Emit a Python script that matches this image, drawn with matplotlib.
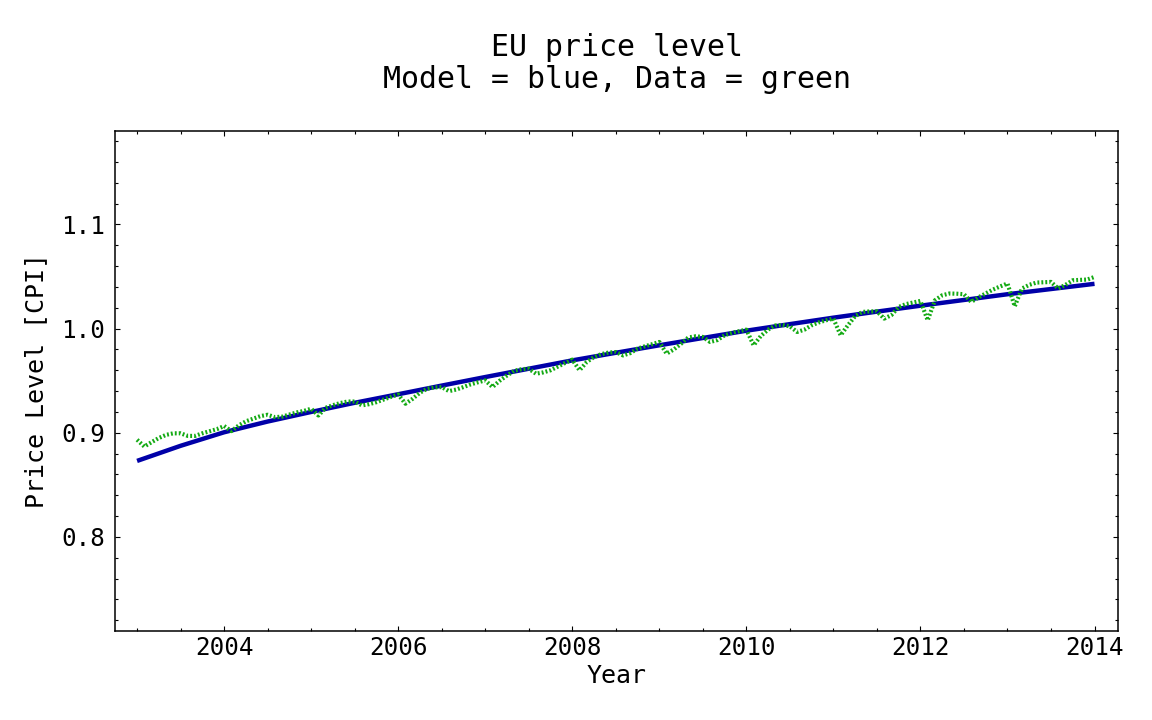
import matplotlib
matplotlib.use("Agg")
import matplotlib.pyplot as plt
import numpy as np
from matplotlib.ticker import MultipleLocator

# ---- data ----
model_years = [2003.0, 2003.5, 2004.0, 2004.5, 2005.0, 2005.5, 2006.0, 2006.5,
               2007.0, 2007.5, 2008.0, 2008.5, 2009.0, 2009.5, 2010.0, 2010.5,
               2011.0, 2011.5, 2012.0, 2012.5, 2013.0, 2013.5, 2014.0]
model_values = [0.8730, 0.8875, 0.9005, 0.9108, 0.9200, 0.9288, 0.9370, 0.9453,
                0.9535, 0.9615, 0.9695, 0.9768, 0.9840, 0.9910, 0.9980, 1.0043,
                1.0105, 1.0163, 1.0220, 1.0275, 1.0330, 1.0380, 1.0430]

# monthly CPI data, one row per year (Jan..Dec), plus final point
data_2003 = [0.8933, 0.8868, 0.8910, 0.8950, 0.8980, 0.8995, 0.8995, 0.8970, 0.8970, 0.8995, 0.9015, 0.9035]
data_2004 = [0.9065, 0.9016, 0.9070, 0.9110, 0.9135, 0.9160, 0.9173, 0.9150, 0.9155, 0.9175, 0.9195, 0.9210]
data_2005 = [0.9231, 0.9166, 0.9240, 0.9265, 0.9285, 0.9300, 0.9300, 0.9263, 0.9275, 0.9294, 0.9320, 0.9345]
data_2006 = [0.9368, 0.9279, 0.9327, 0.9385, 0.9423, 0.9435, 0.9439, 0.9400, 0.9415, 0.9439, 0.9465, 0.9485]
data_2007 = [0.9503, 0.9439, 0.9500, 0.9550, 0.9595, 0.9610, 0.9615, 0.9567, 0.9580, 0.9600, 0.9635, 0.9670]
data_2008 = [0.9702, 0.9600, 0.9680, 0.9727, 0.9755, 0.9770, 0.9775, 0.9743, 0.9765, 0.9808, 0.9830, 0.9850]
data_2009 = [0.9872, 0.9760, 0.9800, 0.9855, 0.9915, 0.9926, 0.9920, 0.9872, 0.9890, 0.9936, 0.9960, 0.9975]
data_2010 = [0.9990, 0.9840, 0.9930, 0.9990, 1.0030, 1.0035, 1.0022, 0.9968, 0.9990, 1.0032, 1.0060, 1.0080]
data_2011 = [1.0096, 0.9936, 1.0032, 1.0120, 1.0160, 1.0165, 1.0166, 1.0096, 1.0130, 1.0208, 1.0235, 1.0250]
data_2012 = [1.0266, 1.0080, 1.0272, 1.0320, 1.0337, 1.0335, 1.0330, 1.0256, 1.0300, 1.0337, 1.0375, 1.0405]
data_2013 = [1.0433, 1.0214, 1.0385, 1.0420, 1.0442, 1.0445, 1.0448, 1.0385, 1.0420, 1.0464, 1.0468, 1.0471]
data_2014 = [1.0496]

data_values = (data_2003 + data_2004 + data_2005 + data_2006 + data_2007 + data_2008 +
               data_2009 + data_2010 + data_2011 + data_2012 + data_2013 + data_2014)
data_years = [2003 + i / 12 for i in range(len(data_values))]

title_lines = ["EU price level", "Model = blue, Data = green"]
xlabel = "Year"
ylabel = "Price Level [CPI]"
xticks = [2004, 2006, 2008, 2010, 2012, 2014]
yticks = [0.8, 0.9, 1.0, 1.1]

# ---- figure ----
mono = "DejaVu Sans Mono"
fig = plt.figure(figsize=(11.52, 7.2), dpi=100)
ax = fig.add_axes([0.1001, 0.124, 0.8704, 0.6945])

ax.plot(model_years, model_values, color="#0000a8", lw=3.2, solid_capstyle="butt", zorder=2)
ln, = ax.plot(data_years, data_values, color="#14aa14", lw=3.0, zorder=3)
ln.set_dashes([0.45, 0.5])
ln.set_dash_capstyle("butt")

ax.set_xlim(2002.75, 2014.27)
ax.set_ylim(0.71, 1.19)
ax.set_xticks(xticks)
ax.set_xticklabels([str(t) for t in xticks])
ax.set_yticks(yticks)
ax.set_yticklabels([f"{t:.1f}" for t in yticks])
ax.xaxis.set_minor_locator(MultipleLocator(0.5))
ax.yaxis.set_minor_locator(MultipleLocator(0.02))
ax.tick_params(which="both", direction="in", top=True, right=True, width=0.8, color="black")
ax.tick_params(which="major", length=3.6)
ax.tick_params(which="minor", length=2.0)
ax.tick_params(axis="y", which="major", pad=7.5, labelsize=17.5)
ax.tick_params(axis="x", which="major", pad=4, labelsize=17.5)
for lab in ax.get_xticklabels() + ax.get_yticklabels():
    lab.set_fontfamily(mono)
for s in ax.spines.values():
    s.set_linewidth(1.1)

ax.set_xlabel(xlabel, fontsize=18, family=mono, labelpad=3)
ax.set_ylabel(ylabel, fontsize=18, family=mono, labelpad=9)

cx = 0.1001 + 0.8704 / 2
fig.text(cx, 1 - 47 / 720, title_lines[0], ha="center", va="center", fontsize=21.5, family=mono)
fig.text(cx, 1 - 80 / 720, title_lines[1], ha="center", va="center", fontsize=21.5, family=mono)

fig.savefig("out.png", dpi=100, facecolor="white")
